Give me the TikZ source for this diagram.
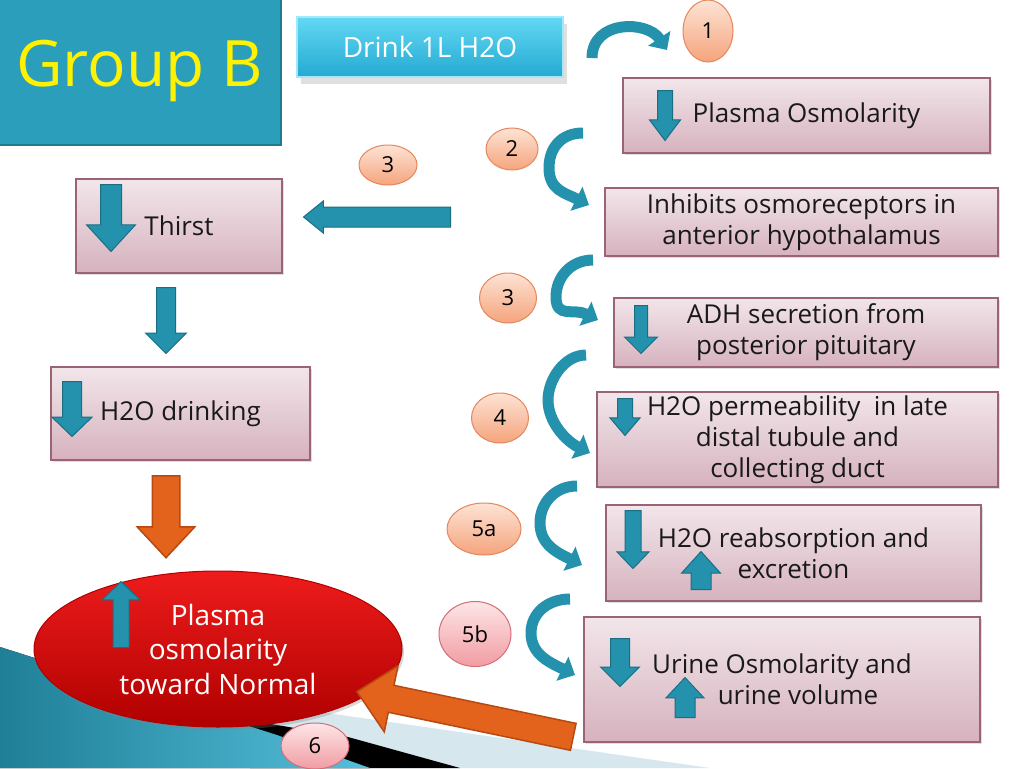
\documentclass[tikz,border=0pt]{standalone}
\usepackage{fontspec}
\setmainfont{Open Sans}
\usetikzlibrary{shapes.geometric,shapes.arrows,arrows.meta,shadows}

\definecolor{tealfill}{HTML}{2592AD}
\definecolor{tealedge}{HTML}{1A6E83}
\definecolor{boxtop}{HTML}{F2E6EA}
\definecolor{boxbot}{HTML}{D6B2BE}
\definecolor{boxedge}{HTML}{9A6476}
\definecolor{salmontop}{HTML}{FDE3D5}
\definecolor{salmonbot}{HTML}{F5A47C}
\definecolor{salmonedge}{HTML}{E5875C}
\definecolor{pinktop}{HTML}{FDE6E7}
\definecolor{pinkbot}{HTML}{F19CA2}
\definecolor{pinkedge}{HTML}{D46E78}
\definecolor{orangefill}{HTML}{E3621C}
\definecolor{orangeedge}{HTML}{B64A12}
\definecolor{groupteal}{HTML}{2B9EBC}
\definecolor{groupedge}{HTML}{1F7A92}
\definecolor{drinktop}{HTML}{62D8F3}
\definecolor{drinkmid}{HTML}{3AC3E7}
\definecolor{drinkbot}{HTML}{25A9D2}
\definecolor{ovaltop}{HTML}{EE1C1C}
\definecolor{ovalbot}{HTML}{B00000}
\definecolor{bandgray}{HTML}{D6E7EE}
\definecolor{swooshdark}{HTML}{1F7F97}
\definecolor{swooshlight}{HTML}{55BFDB}

\tikzset{
  stepbox/.style={rectangle, draw=boxedge, line width=1.2pt, top color=boxtop, bottom color=boxbot,
    align=center, text=black!90, font=\fontsize{26}{31}\selectfont,
    drop shadow={shadow xshift=2pt, shadow yshift=-2pt, opacity=0.25}},
  badge/.style={ellipse, draw=salmonedge, line width=1pt, top color=salmontop, bottom color=salmonbot,
    inner sep=0pt, font=\fontsize{22}{26}\selectfont, text=black},
  badgepink/.style={badge, draw=pinkedge, top color=pinktop, bottom color=pinkbot},
  tealblk/.style={single arrow, draw=tealedge, fill=tealfill, line width=1pt, inner xsep=0pt,
    single arrow head indent=0pt, anchor=tail},
  orangeblk/.style={tealblk, draw=orangeedge, fill=orangefill, line width=1.5pt},
  curvearr/.style={draw=tealfill, line width=11pt, -{Triangle[length=14pt,width=26pt]}},
}

\begin{document}
\begin{tikzpicture}[x=1pt,y=-1pt]
    \useasboundingbox (0,0) rectangle (1024,768);
    \clip (0,0) rectangle (1024,768);
    \fill[white] (0,0) rectangle (1024,768);
    %背景
    \fill[bandgray] (0,666) -- (710,768) -- (0,768) -- cycle;
    \fill[black] (200,712) -- (348,737) -- (460,768) -- (250,768) -- cycle;
    \fill[left color=swooshdark, right color=swooshlight] (0,647) -- (277,735) -- (370,768) -- (0,768) -- cycle;
    %标题
    \node[rectangle, fill=groupteal, draw=groupedge, line width=2pt, minimum width=283pt, minimum height=147pt,
      text=yellow, font=\fontsize{64}{70}\selectfont] (groupb) at (139.5,71.5) {Group B};
    \node[rectangle, draw=drinktop!60!white, line width=1.5pt, top color=drinktop, middle color=drinkmid, bottom color=drinkbot,
      minimum width=266pt, minimum height=60pt, text=white, font=\fontsize{28}{32}\selectfont,
      drop shadow={shadow xshift=4pt, shadow yshift=-7pt, opacity=0.25}] (drink) at (430,47) {Drink 1L H2O};
    %右侧步骤
    \node[stepbox, minimum width=367pt, minimum height=75pt] (plasma) at (806.5,115.5) {Plasma Osmolarity};
    \node[stepbox, minimum width=393pt, minimum height=68pt] (inhibit) at (801.5,222) {Inhibits osmoreceptors in\\anterior hypothalamus};
    \node[stepbox, minimum width=384pt, minimum height=69pt] (adh) at (806,332.5) {ADH secretion from\\posterior pituitary};
    \node[stepbox, minimum width=401pt, minimum height=95pt] (perm) at (797.5,439.5) {H2O permeability~ in late\\distal tubule and\\collecting duct};
    \node[stepbox, minimum width=375pt, minimum height=96pt] (reabs) at (793.5,553) {H2O reabsorption and\\excretion};
    \node[stepbox, minimum width=396pt, minimum height=125pt] (urine) at (782,679.5) {Urine Osmolarity and\\\hspace*{32pt}urine volume};
    %左侧步骤
    \node[stepbox, minimum width=206pt, minimum height=94pt] (thirst) at (179,226) {Thirst};
    \node[stepbox, minimum width=259pt, minimum height=93pt] (drinking) at (180.5,413.5) {H2O drinking};
    \node[ellipse, draw=ovalbot, line width=1pt, top color=ovaltop, bottom color=ovalbot, minimum width=368pt, minimum height=156pt,
      align=center, text=white, font=\fontsize{28}{34.5}\selectfont,
      drop shadow={shadow xshift=2pt, shadow yshift=-3pt, opacity=0.3}] (oval) at (218,649) {Plasma\\osmolarity\\toward Normal};
    %箭头
    \node[tealblk, rotate=-90, minimum height=50pt, minimum width=30pt, inner ysep=7pt, single arrow head extend=8pt, single arrow tip angle=74] (plasmaarr) at (665,90) {};
    \node[tealblk, rotate=-90, minimum height=67pt, minimum width=48pt, inner ysep=10pt, single arrow head extend=14pt, single arrow tip angle=85] (thirstarr) at (111,184) {};
    \node[tealblk, rotate=-90, minimum height=66pt, minimum width=40pt, inner ysep=9pt, single arrow head extend=11pt, single arrow tip angle=90] (midarr) at (166,287) {};
    \node[tealblk, rotate=-90, minimum height=55pt, minimum width=39pt, inner ysep=9pt, single arrow head extend=10.5pt, single arrow tip angle=92] (drinkarr) at (72,381) {};
    \node[tealblk, rotate=-90, minimum height=48pt, minimum width=32pt, inner ysep=6pt, single arrow head extend=10pt, single arrow tip angle=90] (adharr) at (641,305) {};
    \node[tealblk, rotate=-90, minimum height=37pt, minimum width=29pt, inner ysep=7pt, single arrow head extend=7.5pt, single arrow tip angle=81] (permarr) at (625,398) {};
    \node[tealblk, rotate=-90, minimum height=58pt, minimum width=31pt, inner ysep=7.5pt, single arrow head extend=8pt, single arrow tip angle=88] (reabsdn) at (633,510) {};
    \node[tealblk, rotate=90, minimum height=38pt, minimum width=38pt, inner ysep=9.5pt, single arrow head extend=9.5pt, single arrow tip angle=84] (reabsup) at (701,590) {};
    \node[tealblk, rotate=-90, minimum height=48pt, minimum width=38pt, inner ysep=9pt, single arrow head extend=10pt, single arrow tip angle=90] (urinedn) at (620,638) {};
    \node[tealblk, rotate=90, minimum height=40pt, minimum width=37pt, inner ysep=9.5pt, single arrow head extend=9pt, single arrow tip angle=86] (urineup) at (685,718) {};
    \node[tealblk, rotate=90, minimum height=66pt, minimum width=37pt, inner ysep=7.5pt, single arrow head extend=11pt, single arrow tip angle=92] (ovalup) at (121,648) {};
    \node[tealblk, rotate=180, minimum height=147pt, minimum width=31pt, inner ysep=9.5pt, single arrow head extend=6pt, single arrow tip angle=78] (leftarr) at (451,217) {};
    \node[orangeblk, rotate=-90, minimum height=82pt, minimum width=56pt, inner ysep=13pt, single arrow head extend=15pt, single arrow tip angle=86] (orangedn) at (166,475) {};
    \node[orangeblk, rotate=168.2, minimum height=221pt, minimum width=66pt, inner ysep=13pt, single arrow head extend=20pt, single arrow tip angle=88] (orangeback) at (574,737) {};
    %弯箭头
    \coordinate (c1a) at (592,58); \coordinate (c1c) at (667,50);
    \draw[curvearr] (c1a) .. controls +(0,-38) and +(-20,-30) .. (c1c);
    \coordinate (c2a) at (583,133); \coordinate (c2b) at (549,168); \coordinate (c2c) at (589,205);
    \coordinate (c3a) at (593,260); \coordinate (c3b) at (556,297); \coordinate (c3c) at (598,320);
    \coordinate (c4a) at (586,355); \coordinate (c4b) at (548,400); \coordinate (c4c) at (590,453);
    \coordinate (c5a) at (577,486); \coordinate (c5b) at (540,523); \coordinate (c5c) at (582,565);
    \coordinate (c6a) at (570,599); \coordinate (c6b) at (531,633); \coordinate (c6c) at (575,675);
    \foreach \i in {2,...,6}
      \draw[curvearr] (c\i a) .. controls +(-22,0) and +(0,-20) .. (c\i b) .. controls +(0,22) and +(-24,-12) .. (c\i c);
    %编号
    \node[badge, minimum width=50pt, minimum height=62pt] (num1) at (708,31) {1};
    \node[badge, minimum width=52pt, minimum height=42pt] (num2) at (512,149) {2};
    \node[badge, minimum width=58pt, minimum height=40pt] (num3l) at (388,165) {3};
    \node[badge, minimum width=57pt, minimum height=50pt] (num3r) at (508,298) {3};
    \node[badge, minimum width=57pt, minimum height=50pt] (num4) at (500,418) {4};
    \node[badge, minimum width=74pt, minimum height=52pt] (num5a) at (484,529) {5a};
    \node[badgepink, minimum width=72pt, minimum height=65pt] (num5b) at (475,634) {5b};
    \node[badgepink, minimum width=68pt, minimum height=46pt] (num6) at (315,746) {6};
\end{tikzpicture}
\end{document}
